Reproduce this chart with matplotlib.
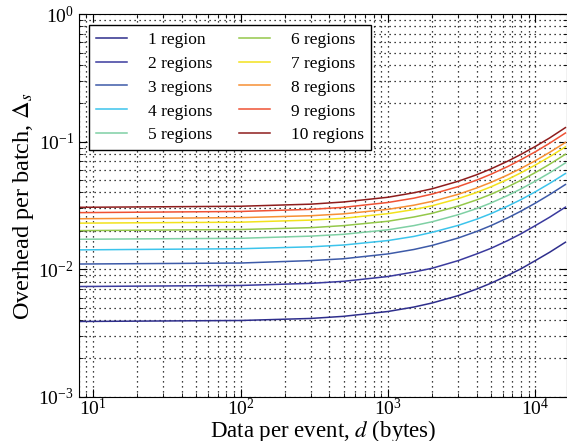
import matplotlib
matplotlib.use("Agg")
import matplotlib.pyplot as plt

plt.rcParams["font.family"] = ["Liberation Serif", "DejaVu Serif"]
plt.rcParams["mathtext.fontset"] = "stix"

# data per event (bytes), sample points
d = [8, 100, 300, 500, 1000, 1500, 2000, 3000, 4000, 5000, 6500, 8000, 10000, 12500, 16000]

r1 = [0.00390, 0.00397, 0.00412, 0.00428, 0.00467, 0.00506, 0.00545, 0.00622, 0.00700, 0.00778, 0.00895, 0.0101, 0.0117, 0.0136, 0.0163]
r2 = [0.00733, 0.00747, 0.00776, 0.00805, 0.00878, 0.00952, 0.0102, 0.0117, 0.0132, 0.0146, 0.0168, 0.0190, 0.0220, 0.0256, 0.0307]
r3 = [0.0110, 0.0112, 0.0117, 0.0121, 0.0132, 0.0143, 0.0154, 0.0176, 0.0198, 0.0220, 0.0253, 0.0286, 0.0330, 0.0385, 0.0462]
r4 = [0.0142, 0.0145, 0.0150, 0.0155, 0.0168, 0.0181, 0.0195, 0.0221, 0.0247, 0.0273, 0.0313, 0.0352, 0.0405, 0.0471, 0.0563]
r5 = [0.0172, 0.0175, 0.0182, 0.0188, 0.0204, 0.0220, 0.0236, 0.0268, 0.0299, 0.0331, 0.0379, 0.0427, 0.0491, 0.0570, 0.0682]
r6 = [0.0201, 0.0205, 0.0212, 0.0220, 0.0238, 0.0257, 0.0275, 0.0313, 0.0350, 0.0387, 0.0443, 0.0499, 0.0573, 0.0666, 0.0797]
r7 = [0.0230, 0.0234, 0.0243, 0.0251, 0.0273, 0.0294, 0.0315, 0.0358, 0.0400, 0.0443, 0.0507, 0.0571, 0.0656, 0.0762, 0.0911]
r8 = [0.0249, 0.0254, 0.0263, 0.0272, 0.0295, 0.0318, 0.0341, 0.0387, 0.0434, 0.0480, 0.0549, 0.0618, 0.0710, 0.0825, 0.0987]
r9 = [0.0278, 0.0284, 0.0295, 0.0306, 0.0334, 0.0361, 0.0389, 0.0445, 0.0500, 0.0556, 0.0639, 0.0723, 0.0834, 0.0973, 0.117]
r10 = [0.0306, 0.0312, 0.0324, 0.0337, 0.0367, 0.0398, 0.0428, 0.0490, 0.0551, 0.0612, 0.0704, 0.0796, 0.0918, 0.107, 0.129]

series = [r1, r2, r3, r4, r5, r6, r7, r8, r9, r10]
labels = ["1 region"] + ["%d regions" % n for n in range(2, 11)]
colors = ["#2e2e8c", "#3a3a9e", "#3d5aa8", "#3cc4ec", "#7fd0a4",
          "#94c84a", "#f2e21c", "#f79034", "#ef5234", "#8e1c1c"]

fig = plt.figure(figsize=(5.67, 4.41), dpi=100)
ax = fig.add_axes([0.139, 0.1, 0.861, 0.868])

for ys, lab, c in zip(series, labels, colors):
    ax.plot(d, ys, color=c, lw=1.1, label=lab)

ax.set_xscale("log")
ax.set_yscale("log")
ax.set_xlim(8, 16400)
ax.set_ylim(1e-3, 1)

ax.grid(True, which="both", color="black", linestyle=(0, (1, 3)), linewidth=0.9)
ax.tick_params(which="both", direction="in", top=True, right=True, labelsize=14)
ax.tick_params(which="major", length=6)
ax.tick_params(axis="x", which="major", pad=1)
ax.tick_params(which="minor", length=3)

ax.set_xlabel("Data per event, $d$ (bytes)", fontsize=16.5)
ax.xaxis.set_label_coords(0.5, -0.056)
ax.set_ylabel("Overhead per batch, $\\Delta_s$", fontsize=17.5, labelpad=2)

leg = ax.legend(loc="upper left", ncol=2, fontsize=12.5, fancybox=False,
                edgecolor="black", framealpha=1, handlelength=1.8,
                handletextpad=1.2, columnspacing=1.5, borderaxespad=0.6,
                labelspacing=0.45)
leg.get_frame().set_linewidth(1.0)

fig.savefig("out.png", dpi=100)
